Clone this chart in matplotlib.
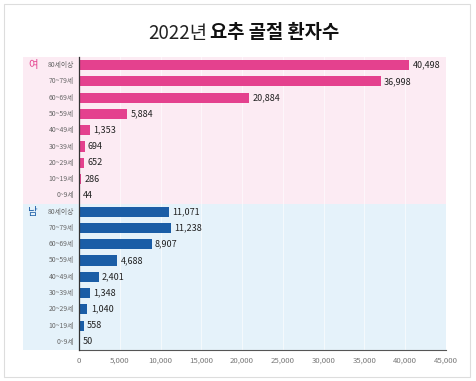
import matplotlib
matplotlib.use("Agg")
import matplotlib.pyplot as plt
import matplotlib.transforms as mtransforms
from matplotlib.patches import Rectangle

plt.rcParams["font.family"] = ["Noto Sans CJK KR", "DejaVu Sans"]

ages = ["80세이상", "70~79세", "60~69세", "50~59세", "40~49세",
        "30~39세", "20~29세", "10~19세", "0~9세"]
female = [40498, 36998, 20884, 5884, 1353, 694, 652, 286, 44]
male = [11071, 11238, 8907, 4688, 2401, 1348, 1040, 558, 50]
xticks = [0, 5000, 10000, 15000, 20000, 25000, 30000, 35000, 40000, 45000]

PINK = "#e4418e"
BLUE = "#1a5da6"
PINK_BG = "#fcebf3"
BLUE_BG = "#e5f2fa"

fig = plt.figure(figsize=(4.76, 3.81), dpi=100)
fig.patches.append(Rectangle((4 / 476, 4 / 381), 466 / 476, 373 / 381,
                             transform=fig.transFigure, fill=False,
                             edgecolor="#dddddd", linewidth=0.8))

ax = fig.add_axes([79 / 476, 1 - 350 / 381, 367 / 476, 293 / 381])

n = len(ages)
ypos_f = [2 * n - 1 - i for i in range(n)]
ypos_m = [n - 1 - i for i in range(n)]

# 배경 띠 (여/남)
trans = mtransforms.blended_transform_factory(ax.transAxes, ax.transData)
left = -56 / 367
ax.add_patch(Rectangle((left, n - 0.5), 1 - left, n, transform=trans,
                       color=PINK_BG, clip_on=False, zorder=0, lw=0))
ax.add_patch(Rectangle((left, -0.5), 1 - left, n, transform=trans,
                       color=BLUE_BG, clip_on=False, zorder=0, lw=0))

for xv in xticks[1:]:
    ax.axvline(xv, color="white", lw=0.8, alpha=0.6, zorder=1)

ax.barh(ypos_f, female, height=0.62, color=PINK, zorder=2)
ax.barh(ypos_m, male, height=0.62, color=BLUE, zorder=2)

for y, v in zip(ypos_f + ypos_m, female + male):
    ax.text(v + 400, y, f"{v:,}", va="center", ha="left", fontsize=6.5,
            color="#222222", zorder=3)

for y, a in zip(ypos_f + ypos_m, ages + ages):
    ax.text(-600, y, a, va="center", ha="right", fontsize=4.9, color="#666666")

ax.text(left + 0.028, ypos_f[0], "여", transform=trans, va="center",
        ha="center", fontsize=7.5, color=PINK)
ax.text(left + 0.028, ypos_m[0], "남", transform=trans, va="center",
        ha="center", fontsize=7.5, color=BLUE)

ax.set_xlim(0, 45000)
ax.set_ylim(-0.5, 2 * n - 0.5)
ax.set_xticks(xticks)
ax.set_xticklabels([f"{x:,}" for x in xticks], fontsize=5.6, color="#777777")
ax.tick_params(axis="x", length=0, pad=5)
ax.set_yticks([])
ax.set_facecolor("none")
for s in ["top", "right"]:
    ax.spines[s].set_visible(False)
ax.spines["left"].set_color("#333333")
ax.spines["left"].set_linewidth(0.9)
ax.spines["bottom"].set_color("#555555")
ax.spines["bottom"].set_linewidth(0.8)
ax.spines["left"].set_zorder(4)

fig.text(207 / 476, 1 - 33 / 381, "2022년", ha="right", va="center",
         fontsize=13.5, color="#222222")
fig.text(210 / 476, 1 - 33 / 381, "요추 골절 환자수", ha="left", va="center",
         fontsize=13.5, fontweight="bold", color="#111111")

fig.savefig("out.png", dpi=100)
